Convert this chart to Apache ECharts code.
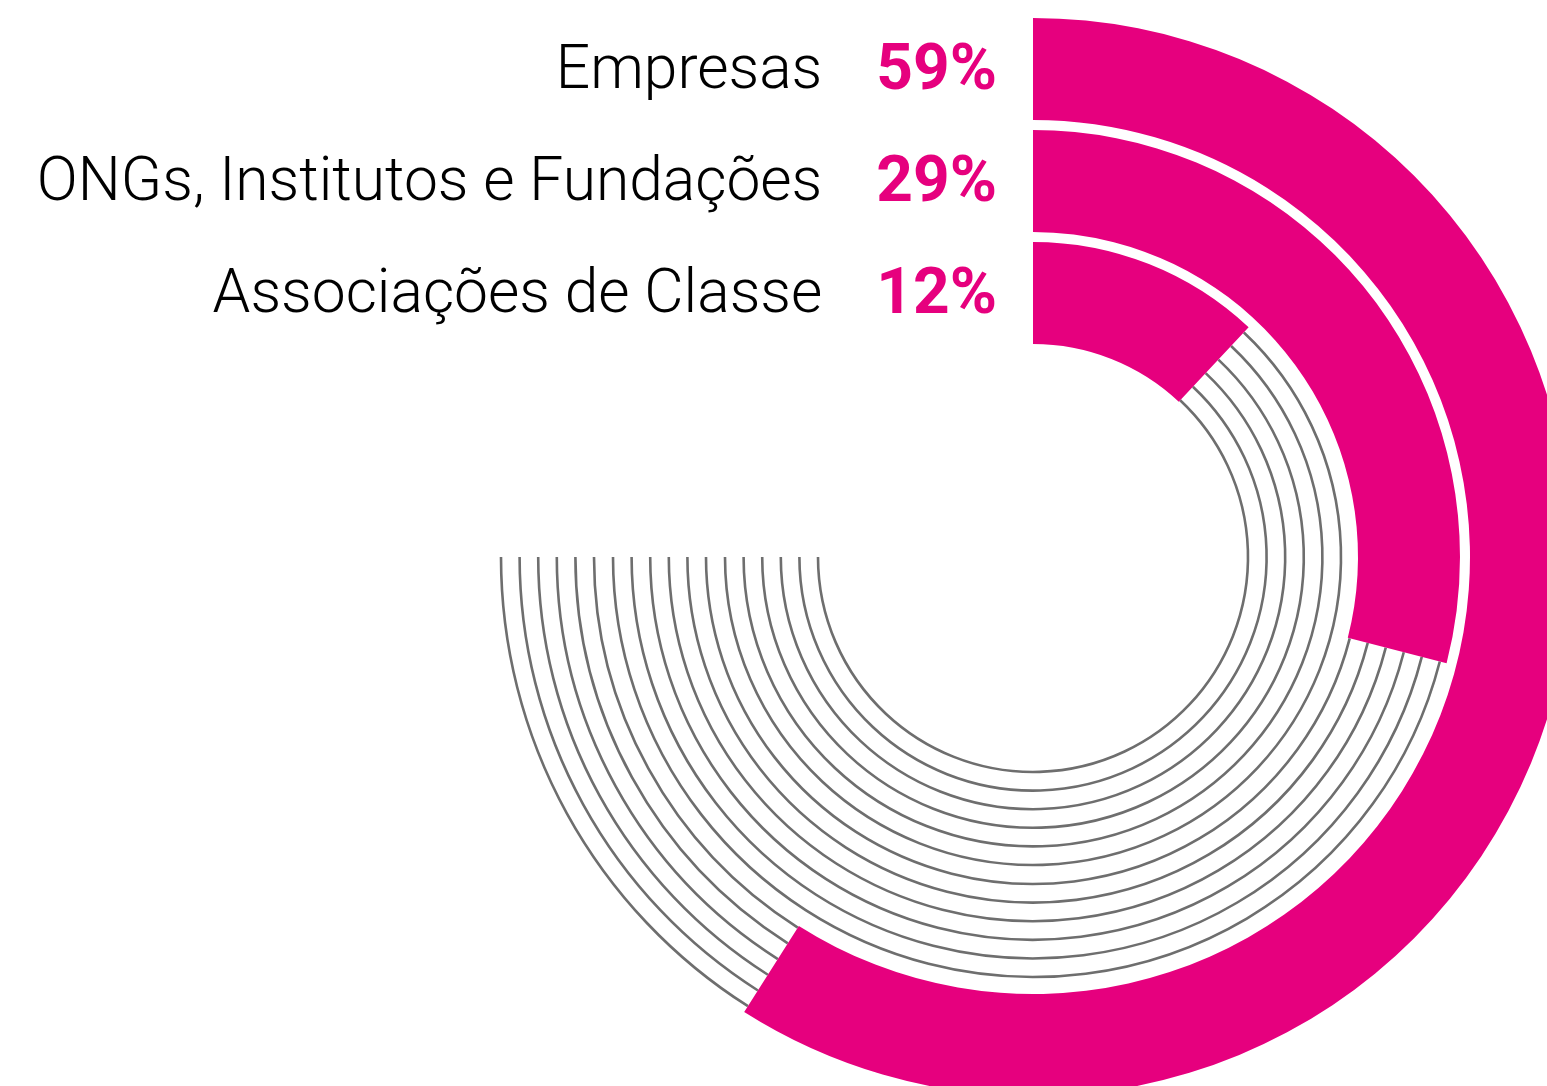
<!DOCTYPE html>
<html>
<head>
<meta charset="utf-8">
<title>Radial share chart</title>
<script src="https://cdn.jsdelivr.net/npm/echarts@6/dist/echarts.min.js"></script>
<style>
  html, body { margin: 0; padding: 0; background: #fff; }
  #chart { width: 1547px; height: 1086px; }
</style>
</head>
<body>
<div id="chart"></div>
<script>
  // rings from inside to outside
  var categories = ['Associações de Classe', 'ONGs, Institutos e Fundações', 'Empresas']
  var shares = [12, 29, 59]
  // the grey track runs from the end of each bar round to 9 o'clock
  var trackEnd = 75

  var PINK = '#e6007e'
  var GREY = '#6e6e6e'
  var BAR_WIDTH = 102
  var LINES_PER_RING = 6
  var LINE_GAP = 18.6

  function renderTrack (params, api) {
    var cs = params.coordSys
    var ring = api.value(0)
    var from = api.value(1)
    var p0 = api.coord([ring, from])
    var p1 = api.coord([ring, trackEnd])
    var midR = Math.sqrt(Math.pow(p0[0] - cs.cx, 2) + Math.pow(p0[1] - cs.cy, 2))
    var a0 = Math.atan2(p0[1] - cs.cy, p0[0] - cs.cx)
    var a1 = Math.atan2(p1[1] - cs.cy, p1[0] - cs.cx)
    while (a1 <= a0) {
      a1 += Math.PI * 2
    }
    var inner = midR - BAR_WIDTH / 2
    var children = []
    for (var j = 0; j < LINES_PER_RING; j++) {
      children.push({
        type: 'arc',
        shape: {
          cx: cs.cx,
          cy: cs.cy,
          r: inner + 2 + j * LINE_GAP,
          startAngle: a0,
          endAngle: a1,
          clockwise: true
        },
        style: { stroke: GREY, lineWidth: 2.6, fill: null }
      })
    }
    return { type: 'group', children: children }
  }

  var chart = echarts.init(document.getElementById('chart'))
  var option = {
    animation: false,
    polar: {
      center: [1033, 557],
      radius: [208, 544]
    },
    angleAxis: {
      type: 'value',
      min: 0,
      max: 100,
      startAngle: 90,
      clockwise: true,
      show: false
    },
    radiusAxis: {
      type: 'category',
      data: categories,
      show: false
    },
    series: [
      {
        type: 'custom',
        coordinateSystem: 'polar',
        renderItem: renderTrack,
        data: categories.map(function (c, i) { return [i, shares[i]] }),
        z: 1,
        silent: true
      },
      {
        type: 'bar',
        coordinateSystem: 'polar',
        data: shares,
        barWidth: BAR_WIDTH,
        itemStyle: { color: PINK },
        z: 3,
        label: {
          show: true,
          position: 'start',
          distance: 36,
          offset: [0, 4],
          formatter: function (p) {
            return '{n|' + categories[p.dataIndex] + '}{v|' + shares[p.dataIndex] + '%}'
          },
          rich: {
            n: {
              fontFamily: 'Roboto',
              fontWeight: 300,
              fontSize: 60.5,
              color: '#000',
              padding: [0, 54, 0, 0]
            },
            v: {
              fontFamily: 'Roboto',
              fontWeight: 'bold',
              fontSize: 64,
              color: PINK
            }
          }
        }
      }
    ]
  }
  chart.setOption(option)
</script>
</body>
</html>
